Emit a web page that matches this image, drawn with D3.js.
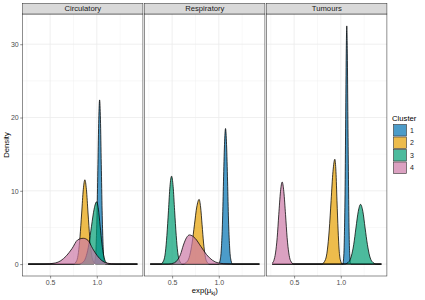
<!DOCTYPE html>
<html>
<head>
<meta charset="utf-8">
<script src="https://cdn.jsdelivr.net/npm/d3@7"></script>
<style>
  body { margin: 0; background: #fff; }
  svg { display: block; font-family: 'Liberation Sans', Arial, sans-serif; }
</style>
</head>
<body>
<script>
const panels = ['Circulatory', 'Respiratory', 'Tumours'];
const clusters = ['1', '2', '3', '4'];
const xTicks = [0.5, 1.0];
const xTickLabels = ['0.5', '1.0'];
const xMinor = [0.25, 0.75, 1.25];
const yTicks = [0, 10, 20, 30];
const yTickLabels = ['0', '10', '20', '30'];
const yMinor = [5, 15, 25];

// density curves: [x, density], one list per cluster
const circulatory = [
  [[0.265, 0], [0.968, 0], [0.986, 0.98], [0.994, 3.03], [1.003, 7.27], [1.012, 13.59], [1.021, 19.77], [1.030, 22.4],
    [1.039, 19.77], [1.048, 13.59], [1.057, 7.27], [1.066, 3.03], [1.074, 0.98], [1.092, 0], [1.435, 0]],
  [[0.265, 0], [0.751, 0], [0.786, 0.5], [0.803, 1.56], [0.820, 3.73], [0.838, 6.97], [0.855, 10.15], [0.872, 11.5],
    [0.889, 10.15], [0.906, 6.97], [0.924, 3.73], [0.941, 1.56], [0.958, 0.5], [0.993, 0], [1.435, 0]],
  [[0.265, 0], [0.806, 0], [0.861, 0.37], [0.888, 1.15], [0.916, 2.76], [0.943, 5.16], [0.971, 7.5], [0.998, 8.5],
    [1.017, 7.5], [1.036, 5.16], [1.055, 2.76], [1.074, 1.15], [1.093, 0.37], [1.131, 0], [1.435, 0]],
  [[0.265, 0], [0.435, 0], [0.555, 0.15], [0.615, 0.47], [0.675, 1.14], [0.735, 2.12], [0.795, 3.3], [0.855, 3.52],
    [0.905, 3.25], [0.955, 2.12], [1.005, 1.14], [1.055, 0.47], [1.105, 0.15], [1.205, 0], [1.435, 0]]
];
const respiratory = [
  [[0.265, 0], [0.997, 0], [1.018, 0.81], [1.029, 2.5], [1.040, 6.01], [1.050, 11.22], [1.061, 16.33], [1.072, 18.5],
    [1.083, 16.33], [1.094, 11.22], [1.104, 6.01], [1.115, 2.5], [1.126, 0.81], [1.147, 0], [1.435, 0]],
  [[0.265, 0], [0.614, 0], [0.664, 0.39], [0.689, 1.19], [0.714, 2.87], [0.739, 5.36], [0.764, 7.79], [0.789, 8.83],
    [0.805, 7.79], [0.821, 5.36], [0.837, 2.87], [0.853, 1.19], [0.869, 0.39], [0.901, 0], [1.435, 0]],
  [[0.265, 0], [0.378, 0], [0.411, 0.53], [0.428, 1.62], [0.444, 3.9], [0.461, 7.28], [0.477, 10.59], [0.494, 12.0],
    [0.511, 10.59], [0.527, 7.28], [0.544, 3.9], [0.560, 1.62], [0.577, 0.53], [0.610, 0], [1.435, 0]],
  [[0.265, 0], [0.459, 0], [0.524, 0.17], [0.556, 0.54], [0.589, 1.29], [0.621, 2.6], [0.654, 3.6], [0.686, 3.98],
    [0.747, 3.51], [0.808, 2.41], [0.869, 1.29], [0.930, 0.54], [0.991, 0.17], [1.113, 0], [1.435, 0]]
];
const tumours = [
  [[0.265, 0], [1.021, 0], [1.033, 1.43], [1.039, 4.4], [1.046, 10.55], [1.052, 19.71], [1.058, 28.68], [1.064, 32.5],
    [1.070, 28.68], [1.076, 19.71], [1.083, 10.55], [1.089, 4.4], [1.095, 1.43], [1.107, 0], [1.435, 0]],
  [[0.265, 0], [0.796, 0], [0.836, 0.63], [0.856, 1.93], [0.876, 4.64], [0.896, 8.67], [0.916, 12.62], [0.936, 14.3],
    [0.948, 12.62], [0.959, 8.67], [0.971, 4.64], [0.982, 1.93], [0.994, 0.63], [1.017, 0], [1.435, 0]],
  [[0.265, 0], [1.040, 0], [1.089, 0.36], [1.113, 1.1], [1.138, 2.65], [1.162, 4.94], [1.187, 7.19], [1.211, 8.15],
    [1.236, 7.19], [1.260, 4.94], [1.285, 2.65], [1.309, 1.1], [1.334, 0.36], [1.383, 0], [1.435, 0]],
  [[0.265, 0.12], [0.283, 0.49], [0.301, 1.52], [0.319, 3.64], [0.336, 6.79], [0.354, 9.88], [0.372, 11.2],
    [0.390, 9.88], [0.408, 6.79], [0.425, 3.64], [0.443, 1.52], [0.461, 0.49], [0.497, 0], [1.435, 0]]
];
const panelData = [circulatory, respiratory, tumours];

const colors = ['#0072B2', '#E69F00', '#009E73', '#CC79A7'];

// Layout
const fullWidth = 425;
const fullHeight = 300;
const panelLeft = 22.7;
const panelW = 120.2;
const gap = 1.8;
const stripTop = 3.5;
const panelTop = 14;
const panelBottom = 276;

const allPts = panelData.flat(2);
const xMin = d3.min(allPts, d => d[0]);
const xMax = d3.max(allPts, d => d[0]);
const yMax = d3.max(allPts, d => d[1]);
const xPad = (xMax - xMin) * 0.05;

const x = d3.scaleLinear()
  .domain([xMin - xPad, xMax + xPad])
  .range([0, panelW]);

const y = d3.scaleLinear()
  .domain([-yMax * 0.05, yMax * 1.05])
  .range([panelBottom, panelTop]);

const area = d3.area()
  .x(d => x(d[0]))
  .y0(y(0))
  .y1(d => y(d[1]))
  .curve(d3.curveMonotoneX);

const line = d3.line()
  .x(d => x(d[0]))
  .y(d => y(d[1]))
  .curve(d3.curveMonotoneX);

const svg = d3.select('body')
  .append('svg')
  .attr('width', fullWidth)
  .attr('height', fullHeight);

svg.append('rect')
  .attr('width', fullWidth)
  .attr('height', fullHeight)
  .attr('fill', '#fff');

panels.forEach((name, i) => {
  const g = svg.append('g')
    .attr('transform', `translate(${panelLeft + i * (panelW + gap)}, 0)`);

  // grid
  g.selectAll('.xminor')
    .data(xMinor)
    .enter()
    .append('line')
    .attr('x1', d => x(d)).attr('x2', d => x(d))
    .attr('y1', panelTop).attr('y2', panelBottom)
    .attr('stroke', '#f0f0f0')
    .attr('stroke-width', 0.5);
  g.selectAll('.yminor')
    .data(yMinor)
    .enter()
    .append('line')
    .attr('x1', 0).attr('x2', panelW)
    .attr('y1', d => y(d)).attr('y2', d => y(d))
    .attr('stroke', '#f0f0f0')
    .attr('stroke-width', 0.5);
  g.selectAll('.xmajor')
    .data(xTicks)
    .enter()
    .append('line')
    .attr('x1', d => x(d)).attr('x2', d => x(d))
    .attr('y1', panelTop).attr('y2', panelBottom)
    .attr('stroke', '#ebebeb')
    .attr('stroke-width', 0.8);
  g.selectAll('.ymajor')
    .data(yTicks)
    .enter()
    .append('line')
    .attr('x1', 0).attr('x2', panelW)
    .attr('y1', d => y(d)).attr('y2', d => y(d))
    .attr('stroke', '#ebebeb')
    .attr('stroke-width', 0.8);

  // densities, cluster 1 drawn first
  panelData[i].forEach((pts, k) => {
    g.append('path')
      .attr('d', area(pts))
      .attr('fill', colors[k])
      .attr('fill-opacity', 0.7);
    g.append('path')
      .attr('d', line(pts))
      .attr('fill', 'none')
      .attr('stroke', '#000')
      .attr('stroke-width', 0.75);
  });

  // border
  g.append('rect')
    .attr('x', 0).attr('y', panelTop)
    .attr('width', panelW).attr('height', panelBottom - panelTop)
    .attr('fill', 'none')
    .attr('stroke', '#333')
    .attr('stroke-width', 0.55);

  // strip
  g.append('rect')
    .attr('x', 0).attr('y', stripTop)
    .attr('width', panelW).attr('height', panelTop - stripTop)
    .attr('fill', '#d9d9d9')
    .attr('stroke', '#333')
    .attr('stroke-width', 0.55);
  g.append('text')
    .attr('x', panelW / 2)
    .attr('y', (stripTop + panelTop) / 2)
    .attr('dy', '0.35em')
    .attr('text-anchor', 'middle')
    .attr('fill', '#1a1a1a')
    .style('font-size', '7.7px')
    .text(name);

  // x axis
  const xAxis = d3.axisBottom(x)
    .tickValues(xTicks)
    .tickFormat((d, j) => xTickLabels[j])
    .tickSize(2.5)
    .tickPadding(1.5)
    .tickSizeOuter(0);
  const xa = g.append('g')
    .attr('transform', `translate(0, ${panelBottom})`)
    .call(xAxis);
  xa.select('.domain').remove();
  xa.selectAll('line').attr('stroke', '#333').attr('stroke-width', 0.55);
  xa.selectAll('text').attr('fill', '#4d4d4d').style('font-size', '7px')
    .style('font-family', "'Liberation Sans', Arial, sans-serif");

  if (i === 0) {
    const yAxis = d3.axisLeft(y)
      .tickValues(yTicks)
      .tickFormat((d, j) => yTickLabels[j])
      .tickSize(2.5)
      .tickPadding(1.5)
      .tickSizeOuter(0);
    const ya = g.append('g').call(yAxis);
    ya.select('.domain').remove();
    ya.selectAll('line').attr('stroke', '#333').attr('stroke-width', 0.55);
    ya.selectAll('text').attr('fill', '#4d4d4d').style('font-size', '7px')
      .style('font-family', "'Liberation Sans', Arial, sans-serif");
  }
});

// axis titles
const plotMid = panelLeft + (3 * panelW + 2 * gap) / 2;
const xTitle = svg.append('text')
  .attr('x', plotMid)
  .attr('y', 293)
  .attr('text-anchor', 'middle')
  .style('font-size', '7.7px')
  .text('exp(μ');
xTitle.append('tspan')
  .attr('dy', 1.8)
  .style('font-size', '5.5px')
  .text('kj');
xTitle.append('tspan')
  .attr('dy', -1.8)
  .text(')');

svg.append('text')
  .attr('transform', `translate(9, ${(panelTop + panelBottom) / 2}) rotate(-90)`)
  .attr('text-anchor', 'middle')
  .style('font-size', '7.7px')
  .text('Density');

// legend
const leg = svg.append('g')
  .attr('transform', 'translate(393, 124)');
leg.append('text')
  .attr('x', -1)
  .attr('y', -3.5)
  .style('font-size', '7.7px')
  .text('Cluster');
const keyH = 12.5;
clusters.forEach((c, k) => {
  leg.append('rect')
    .attr('x', 0.5).attr('y', k * keyH + 0.5)
    .attr('width', 13).attr('height', keyH - 1)
    .attr('fill', colors[k])
    .attr('fill-opacity', 0.7)
    .attr('stroke', '#333')
    .attr('stroke-width', 0.6);
  leg.append('text')
    .attr('x', 17)
    .attr('y', k * keyH + keyH / 2)
    .attr('dy', '0.35em')
    .attr('fill', '#1a1a1a')
    .style('font-size', '7px')
    .text(c);
});
</script>
</body>
</html>
